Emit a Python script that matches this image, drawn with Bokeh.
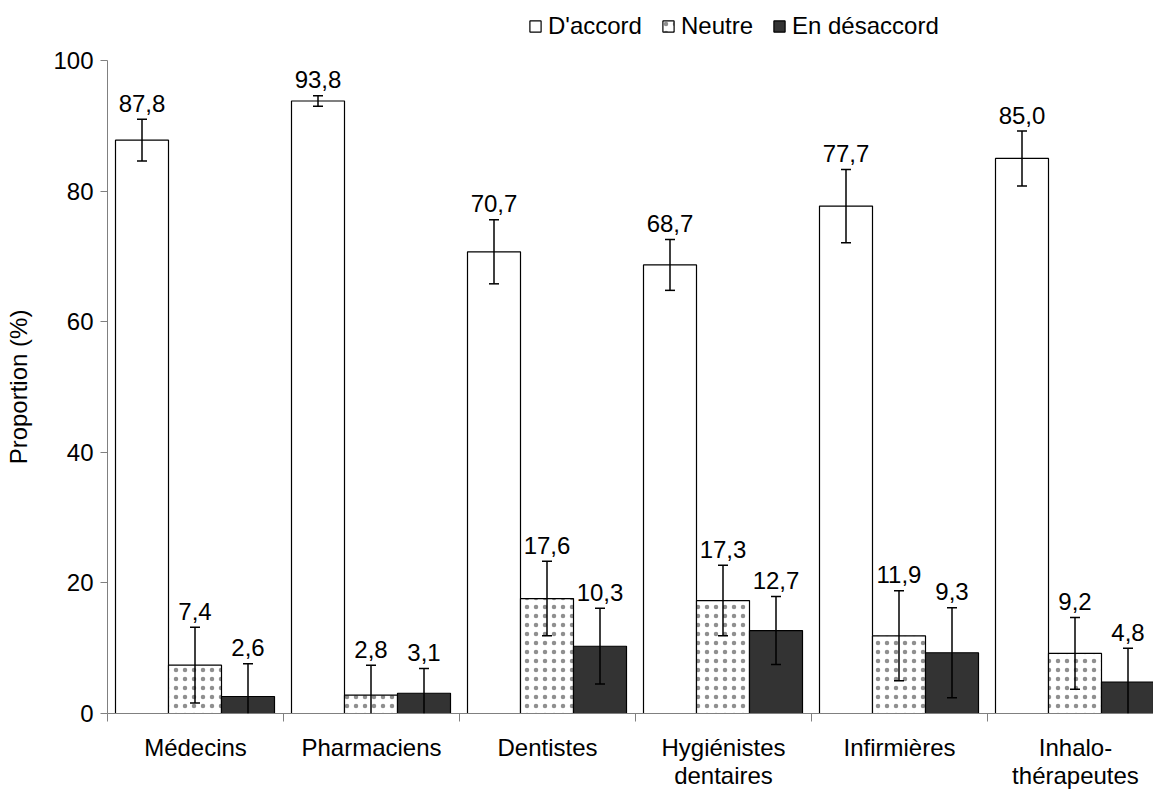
import numpy as np
from bokeh.plotting import figure
from bokeh.layouts import column
from bokeh.models import (ColumnDataSource, Range1d, FixedTicker, Whisker, TeeHead,
                          Legend, LegendItem)
from bokeh.core.properties import value
from bokeh.embed import file_html
from bokeh.resources import INLINE

# ---- data ----
categories = ["Médecins", "Pharmaciens", "Dentistes", "Hygiénistes\ndentaires",
              "Infirmières", "Inhalo-\nthérapeutes"]
series_names = ["D'accord", "Neutre", "En désaccord"]
accord = [87.8, 93.8, 70.7, 68.7, 77.7, 85.0]
neutre = [7.4, 2.8, 17.6, 17.3, 11.9, 9.2]
desaccord = [2.6, 3.1, 10.3, 12.7, 9.3, 4.8]
err_accord = [3.2, 0.8, 4.9, 3.9, 5.6, 4.2]
err_neutre = [5.8, 4.6, 5.7, 5.4, 6.9, 5.5]
err_desaccord = [5.0, 3.8, 5.8, 5.2, 6.9, 5.2]
y_ticks = [0, 20, 40, 60, 80, 100]

FONT = "Liberation Sans"
FS = "24px"

n = len(categories)
idx = np.arange(n)
cat_px = 176
bar_w = 53 / cat_px
gap = 8 / cat_px
offsets = [gap + bar_w * 0.5, gap + bar_w * 1.5, gap + bar_w * 2.5]

W, H = 1153, 791
ML, MB = 107, 78
LEG_H, MT = 44, 16

styles = [
    dict(fill_color="white"),
    dict(fill_color="white", hatch_pattern="dot", hatch_color="#8f8f8f",
         hatch_scale=9, hatch_weight=2.0),
    dict(fill_color="#333333"),
]

# ---- legend strip (separate figure so the legend is not clipped) ----
leg = figure(width=W, height=LEG_H, output_backend="svg", toolbar_location=None,
             x_range=Range1d(0, 1), y_range=Range1d(0, 1),
             x_axis_type=None, y_axis_type=None,
             min_border_left=0, min_border_right=0, min_border_top=0, min_border_bottom=0)
leg.outline_line_color = None
leg.xgrid.visible = False
leg.ygrid.visible = False
leg_renderers = []
for k in range(3):
    # legend-only renderer: one NaN point, nothing drawn in the strip
    r = leg.vbar(x=[np.nan], top=[np.nan], width=0.1, bottom=0, line_color="black",
                 line_width=1.2, **styles[k])
    leg_renderers.append(r)
legend = Legend(items=[LegendItem(label=nm, renderers=[r]) for nm, r in zip(series_names, leg_renderers)],
                orientation="horizontal", location=(421, 4),
                glyph_width=14, glyph_height=14, label_standoff=6, spacing=19,
                padding=0, margin=0, border_line_color=None,
                background_fill_alpha=0, label_text_font=FONT,
                label_text_font_size=FS, label_text_color="black", label_height=24)
leg.add_layout(legend, "center")

# ---- main chart ----
p = figure(width=W, height=H - LEG_H, output_backend="svg", toolbar_location=None,
           x_range=Range1d(0, (W - ML) / cat_px), y_range=Range1d(0, 100),
           min_border_left=ML, min_border_right=0, min_border_top=MT,
           min_border_bottom=MB)
p.outline_line_color = None
p.xgrid.visible = False
p.ygrid.visible = False
p.background_fill_color = "white"
p.border_fill_color = "white"

vals = [accord, neutre, desaccord]
errs = [err_accord, err_neutre, err_desaccord]

for k in range(3):
    v = np.array(vals[k])
    e = np.array(errs[k])
    x = idx + offsets[k]
    src = ColumnDataSource(dict(x=x, top=v, label=[f"{a:.1f}".replace(".", ",") for a in v],
                                ly=v + e))
    p.vbar(x="x", top="top", width=bar_w, bottom=0, source=src,
           line_color="black", line_width=1.2, **styles[k])

    low = v - e
    ok = low >= 0
    for mask, lower_head in ((ok, True), (~ok, False)):
        if mask.sum() == 0:
            continue
        wsrc = ColumnDataSource(dict(x=x[mask], upper=(v + e)[mask],
                                     lower=np.where(low < 0, 0, low)[mask]))
        w = Whisker(source=wsrc, base="x", upper="upper", lower="lower",
                    dimension="height", line_color="black", line_width=1.5,
                    upper_head=TeeHead(size=10, line_color="black", line_width=1.5),
                    lower_head=TeeHead(size=10, line_color="black", line_width=1.5) if lower_head else None,
                    level="annotation")
        p.add_layout(w)

    p.text(x="x", y="ly", text="label", source=src, text_align="center",
           text_baseline="middle", y_offset=-16, text_font=value(FONT),
           text_font_size=FS, text_color="black")

# ---- axes ----
centers = list(idx + 0.5)
bounds = list(np.arange(n + 1).astype(float))
p.xaxis.ticker = FixedTicker(ticks=centers, minor_ticks=bounds)
p.xaxis.major_label_overrides = {c: lab for c, lab in zip(centers, categories)}
p.xaxis.major_tick_line_color = None
p.xaxis.major_tick_out = 0
p.xaxis.major_tick_in = 0
p.xaxis.minor_tick_out = 8
p.xaxis.minor_tick_in = 0
p.xaxis.minor_tick_line_color = "#808080"
p.xaxis.axis_line_color = "#808080"
p.xaxis.major_label_text_font = FONT
p.xaxis.major_label_text_font_size = FS
p.xaxis.major_label_text_color = "black"
p.xaxis.major_label_standoff = 12
p.xaxis.major_label_text_line_height = 1.05

p.yaxis.ticker = FixedTicker(ticks=y_ticks)
p.yaxis.minor_tick_line_color = None
p.yaxis.major_tick_out = 7
p.yaxis.major_tick_in = 0
p.yaxis.major_tick_line_color = "#808080"
p.yaxis.axis_line_color = "#808080"
p.yaxis.major_label_text_font = FONT
p.yaxis.major_label_text_font_size = FS
p.yaxis.major_label_text_color = "black"
p.yaxis.major_label_standoff = 7
p.yaxis.axis_label = "Proportion (%)"
p.yaxis.axis_label_text_font = FONT
p.yaxis.axis_label_text_font_size = FS
p.yaxis.axis_label_text_font_style = "normal"
p.yaxis.axis_label_text_color = "black"
p.yaxis.axis_label_standoff = 18

layout = column(leg, p, spacing=0)
open("out.html", "w").write(file_html(layout, INLINE))
